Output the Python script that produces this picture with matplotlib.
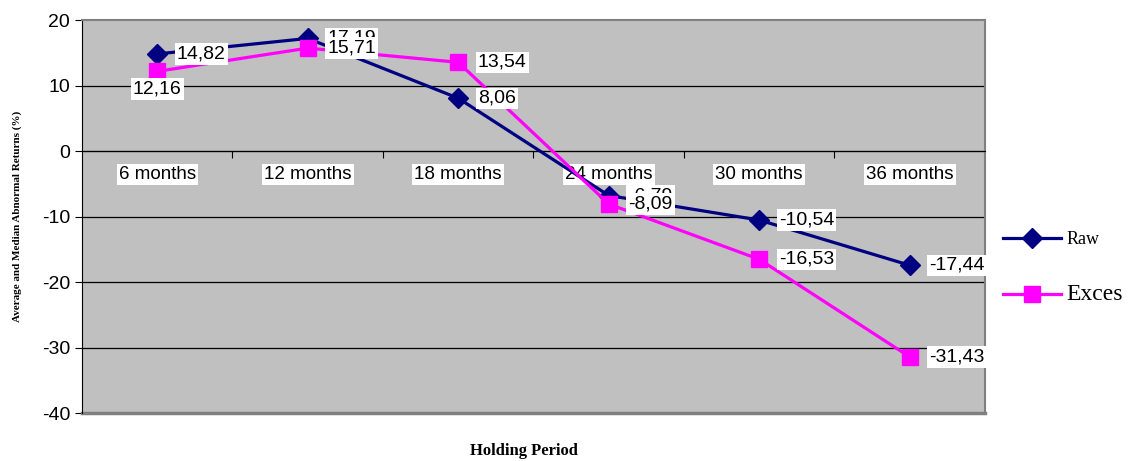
import matplotlib.pyplot as plt
from matplotlib.lines import Line2D

plt.rcParams['axes.unicode_minus'] = False

periodos = ['6 months', '12 months', '18 months', '24 months', '30 months', '36 months']
raw = [14.82, 17.19, 8.06, -6.79, -10.54, -17.44]
exces = [12.16, 15.71, 13.54, -8.09, -16.53, -31.43]
raw_txt = ['14,82', '17,19', '8,06', '-6,79', '-10,54', '-17,44']
exces_txt = ['12,16', '15,71', '13,54', '-8,09', '-16,53', '-31,43']

fig = plt.figure(figsize=(11.28, 4.61), dpi=100)
ax = fig.add_axes([0.0727, 0.104, 0.8005, 0.8526])
ax.set_facecolor('#C0C0C0')

x = list(range(len(periodos)))
ax.set_xlim(-0.5, 5.5)
ax.set_ylim(-40, 20)

for v in range(-30, 20, 10):
    ax.axhline(v, color='black', linewidth=0.9, zorder=1)

ax.plot(x, raw, '-D', color='#000080', linewidth=2.3, markersize=10, zorder=3)
ax.plot(x, exces, '-s', color='#FF00FF', linewidth=2.3, markersize=12, zorder=4)

caja = dict(facecolor='white', edgecolor='none', pad=1.5)
# etiquetas de datos (raw primero, exces encima, como en el original se tapan)
for i in range(len(x)):
    ax.text(x[i] + 0.13, raw[i], raw_txt[i], fontsize=14, family='Liberation Sans',
            va='center', ha='left', bbox=caja, zorder=5, clip_on=False)
for i in range(len(x)):
    if i == 0:
        ax.text(x[i], exces[i] - 2.7, exces_txt[i], fontsize=14, family='Liberation Sans',
                va='center', ha='center', bbox=caja, zorder=6, clip_on=False)
    else:
        ax.text(x[i] + 0.13, exces[i], exces_txt[i], fontsize=14, family='Liberation Sans',
                va='center', ha='left', bbox=caja, zorder=6, clip_on=False)

# eje x en cero
ax.spines['bottom'].set_position(('data', 0))
ax.spines['bottom'].set_color('black')
ax.spines['left'].set_color('black')
for s in ('top', 'right'):
    ax.spines[s].set_color('#808080')
    ax.spines[s].set_linewidth(1.5)
ax.plot([-0.5, 5.5], [-40, -40], color='#808080', linewidth=2.5, clip_on=False, zorder=2)

ax.set_xticks([i + 0.5 for i in range(5)])
ax.set_xticklabels([])
ax.tick_params(axis='x', which='major', direction='out', length=5)
ax.set_xticks(x, minor=True)
ax.set_xticklabels(periodos, minor=True, fontsize=13.5, family='Liberation Sans')
ax.tick_params(axis='x', which='minor', length=0, pad=11)
for t in ax.get_xticklabels(minor=True):
    t.set_bbox(dict(facecolor='white', edgecolor='none', pad=1.5))

ax.set_yticks(range(-40, 21, 10))
ax.tick_params(axis='y', direction='out', length=5, labelsize=14)
for t in ax.get_yticklabels():
    t.set_family('Liberation Sans')

ax.set_ylabel('Average and Median Abnormal Returns (%)', fontsize=8, fontweight='bold',
              family='Liberation Serif', labelpad=14)
fig.text(0.4645, 0.022, 'Holding Period', fontsize=12, fontweight='bold',
         family='Liberation Serif', ha='center', va='center')

h1 = Line2D([], [], color='#000080', marker='D', linewidth=2.3, markersize=10)
h2 = Line2D([], [], color='#FF00FF', marker='s', linewidth=2.3, markersize=12)
leg = fig.legend([h1, h2], ['Raw', 'Exces'], loc='center left', bbox_to_anchor=(0.875, 0.418),
                 frameon=False, handlelength=3.2, labelspacing=2.0, handletextpad=0.3,
                 prop={'family': 'Liberation Serif', 'size': 13})
leg.get_texts()[1].set_fontsize(17)

fig.savefig('out.png', dpi=100)
